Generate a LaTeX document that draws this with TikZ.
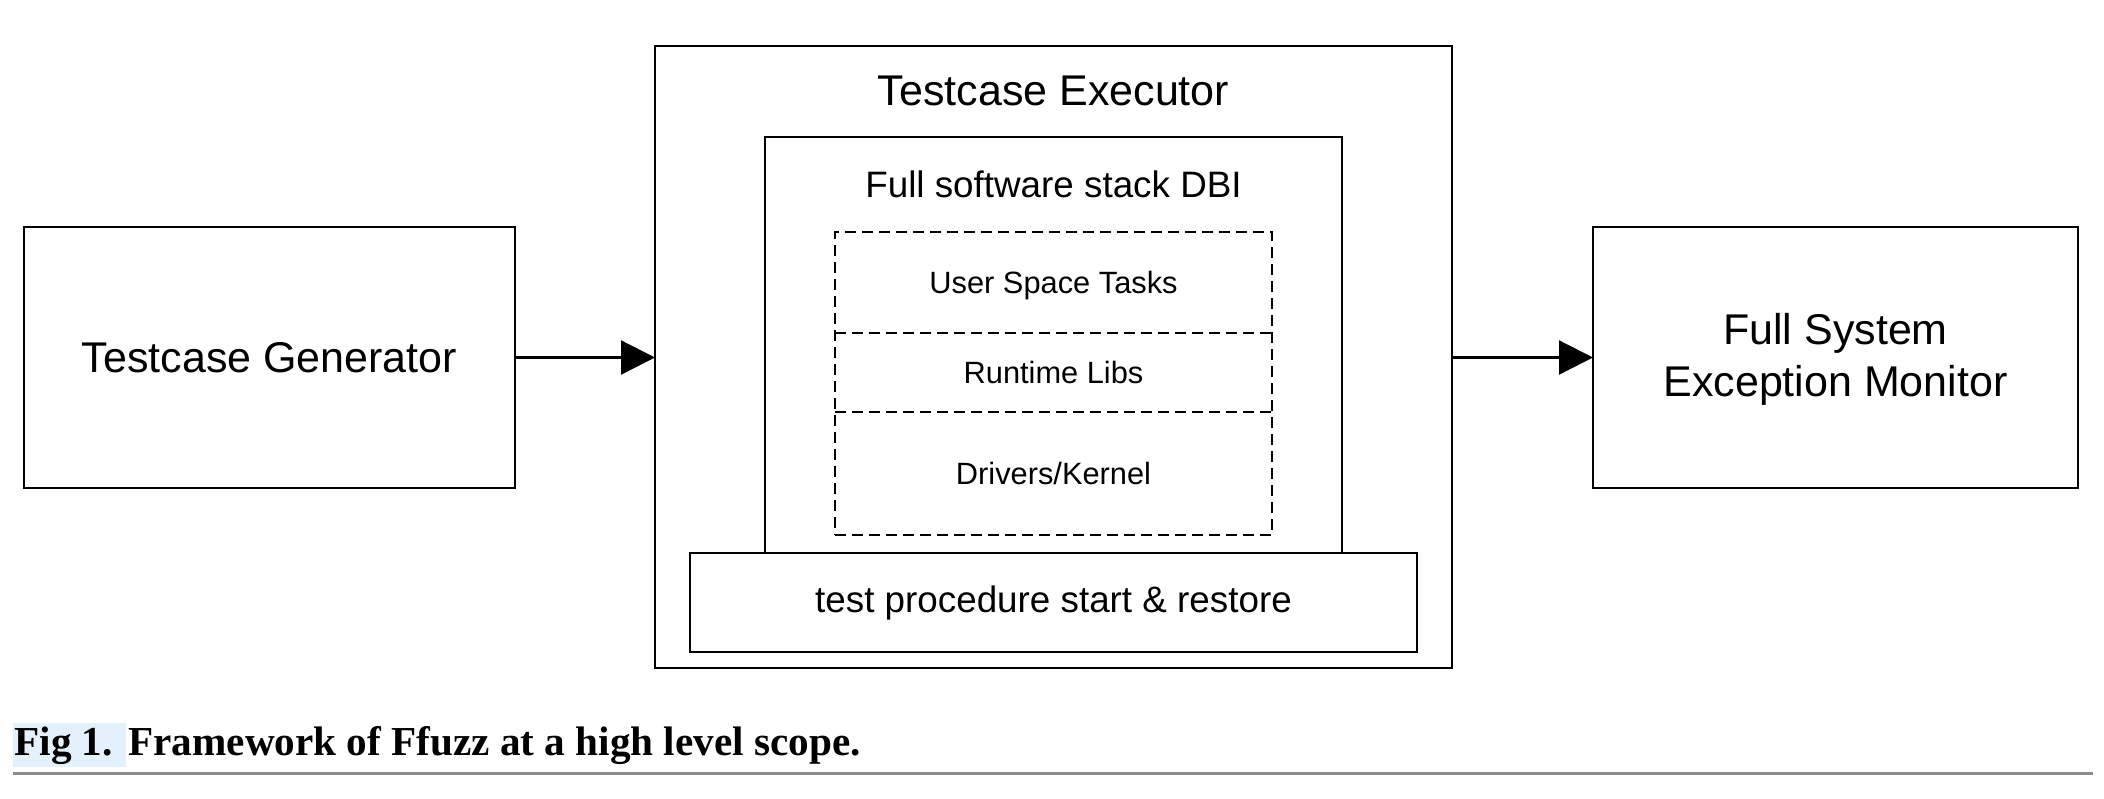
\documentclass[tikz,border=0pt]{standalone}
\usepackage{fontspec}
\setmainfont{Liberation Sans}
\newfontfamily\capfont{Liberation Serif}
\usetikzlibrary{arrows.meta}
\definecolor{hl}{HTML}{E4F1FC}
\begin{document}
\begin{tikzpicture}[x=0.5pt,y=-0.5pt,
  box/.style={draw, line width=1.1pt, inner sep=0pt, outer sep=0pt, align=center},
  dbox/.style={draw, dash pattern=on 5.5pt off 3pt, line width=1pt, inner sep=0pt, outer sep=0pt},
  dline/.style={dash pattern=on 5.5pt off 3pt, line width=1pt},
  lbl/.style={inner sep=0pt, outer sep=0pt, align=center},
  arr/.style={line width=1.1pt, -{Triangle[length=17pt,width=17pt]}},
  big/.style={font=\fontsize{21.5pt}{26pt}\selectfont},
  mid/.style={font=\fontsize{18.4pt}{22pt}\selectfont},
  small/.style={font=\fontsize{15.4pt}{18pt}\selectfont, text depth=0pt},
  capf/.style={font=\capfont\bfseries\fontsize{20.6pt}{24pt}\selectfont}
]
\useasboundingbox (0,0) rectangle (2104,798);
% left and right boxes
\node[box, big, minimum width=245.5pt, minimum height=130.5pt] (gen) at (269.5,357.5) {Testcase Generator};
\node[box, minimum width=242.5pt, minimum height=130.5pt] (mon) at (1835.5,357.5) {};
\node[lbl, big] (montext) at (1835.5,359.5) {Full System\\Exception Monitor};
% executor
\node[box, minimum width=398.5pt, minimum height=311pt] (exec) at (1053.5,357) {};
\node[lbl, big] (exectitle) at (1053.5,91) {Testcase Executor};
\node[box, minimum width=288.5pt, minimum height=208pt] (dbi) at (1053.5,345) {};
\node[lbl, mid] (dbititle) at (1053.5,184) {Full software stack DBI};
% stack
\node[dbox, minimum width=218.5pt, minimum height=151.5pt] (stack) at (1053.5,383.5) {};
\node[lbl, small, minimum width=218.5pt, minimum height=50.5pt] (ust) at (1053.5,282.5) {User Space Tasks};
\node[lbl, small, minimum width=218.5pt, minimum height=39.5pt] (rl) at (1053.5,372.5) {Runtime Libs};
\node[lbl, small, minimum width=218.5pt, minimum height=61.5pt] (dk) at (1053.5,473.5) {Drivers/Kernel};
\draw[dline] (ust.south west) -- (ust.south east);
\draw[dline] (rl.south west) -- (rl.south east);
% procedure
\node[box, mid, fill=white, minimum width=363.5pt, minimum height=49.5pt] (proc) at (1053.5,602.5) {test procedure start \& restore};
% arrows
\draw[arr] (gen.east) -- (gen.east -| exec.west);
\draw[arr] (mon.west -| exec.east) -- (mon.west);
% caption
\node[fill=hl, inner sep=0pt, outer sep=0pt, minimum width=56.5pt, minimum height=22pt, anchor=north west] (hlbox) at (13,723) {};
\node[capf, anchor=base west, inner sep=0pt] (fig) at (14,755) {Fig 1.};
\node[capf, anchor=base west, inner sep=0pt] (cap) at (128,755) {Framework of Ffuzz at a high level scope.};
\coordinate (rulea) at (13,773);
\coordinate (ruleb) at (2093,773);
\draw[black!45, line width=1.5pt] (rulea) -- (ruleb);
\end{tikzpicture}
\end{document}
